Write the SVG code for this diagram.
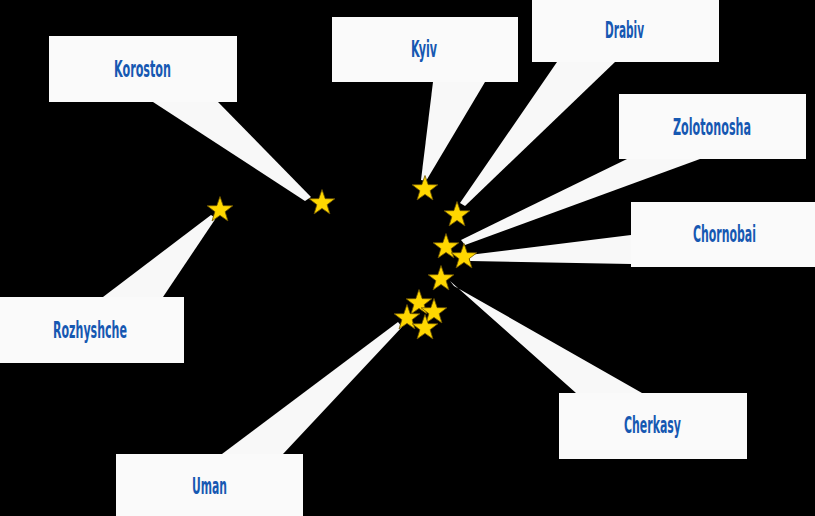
<svg xmlns="http://www.w3.org/2000/svg" xmlns:xlink="http://www.w3.org/1999/xlink" width="815" height="516" viewBox="0 0 815 516">
  <style>
    .box { fill: #fafafa; }
    .tail { fill: #f8f8f8; }
    .lbl { font-family: "DejaVu Sans Condensed", "Liberation Sans", sans-serif; font-weight: bold; font-size: 23.5px; fill: #1658b2; text-anchor: middle; }
    .star { fill: #ffd700; stroke: #6b5200; stroke-width: 0.8; stroke-linejoin: round; }
  </style>
  <defs>
    <path id="star" class="star" d="M0,-13.5 L3.18,-4.37 L12.84,-4.17 L5.14,1.67 L7.94,10.92 L0,5.4 L-7.94,10.92 L-5.14,1.67 L-12.84,-4.17 L-3.18,-4.37 Z"/>
  </defs>
  <rect x="0" y="0" width="815" height="516" fill="#000000"/>
  <g id="connectors">
    <polygon class="tail" points="153,102 218,102 311,197 305,201"/>
    <polygon class="tail" points="433,82 485,82 426,181 421,180"/>
    <polygon class="tail" points="557,62 615,62 465,206 460,203"/>
    <polygon class="tail" points="627,159 700,159 465,245 461,240"/>
    <polygon class="tail" points="631,235 631,264 470,261 469,255"/>
    <polygon class="tail" points="576,393 642,393 454,286 450,281"/>
    <polygon class="tail" points="103,297 163,297 216,218 211,215"/>
    <polygon class="tail" points="222,454 283,454 402,327 398,322"/>
  </g>
  <g id="koroston">
    <rect class="box" x="49" y="36" width="188" height="66"/>
    <text class="lbl" x="142.5" y="77" textLength="57" lengthAdjust="spacingAndGlyphs">Koroston</text>
    <use xlink:href="#star" x="322" y="203"/>
  </g>
  <g id="kyiv">
    <rect class="box" x="332" y="17" width="186" height="65"/>
    <text class="lbl" x="424" y="57" textLength="26" lengthAdjust="spacingAndGlyphs">Kyiv</text>
    <use xlink:href="#star" x="425" y="189"/>
  </g>
  <g id="drabiv">
    <rect class="box" x="532" y="-4" width="187" height="66"/>
    <text class="lbl" x="624.5" y="38" textLength="39" lengthAdjust="spacingAndGlyphs">Drabiv</text>
    <use xlink:href="#star" x="457" y="215"/>
  </g>
  <g id="zolotonosha">
    <rect class="box" x="619" y="94" width="187" height="65"/>
    <text class="lbl" x="712" y="135" textLength="78" lengthAdjust="spacingAndGlyphs">Zolotonosha</text>
    <use xlink:href="#star" x="446" y="247"/>
  </g>
  <g id="chornobai">
    <rect class="box" x="631" y="202" width="184" height="65"/>
    <text class="lbl" x="724.5" y="242" textLength="63" lengthAdjust="spacingAndGlyphs">Chornobai</text>
    <use xlink:href="#star" x="464" y="257"/>
  </g>
  <g id="cherkasy">
    <rect class="box" x="559" y="393" width="188" height="66"/>
    <text class="lbl" x="652.5" y="433" textLength="57" lengthAdjust="spacingAndGlyphs">Cherkasy</text>
    <use xlink:href="#star" x="441" y="279"/>
  </g>
  <g id="rozhyshche">
    <rect class="box" x="0" y="297" width="184" height="66"/>
    <text class="lbl" x="90" y="338" textLength="74" lengthAdjust="spacingAndGlyphs">Rozhyshche</text>
    <use xlink:href="#star" x="220" y="210"/>
  </g>
  <g id="uman">
    <rect class="box" x="116" y="454" width="187" height="66"/>
    <text class="lbl" x="209.5" y="494" textLength="35" lengthAdjust="spacingAndGlyphs">Uman</text>
    <use xlink:href="#star" x="419" y="303"/>
    <use xlink:href="#star" x="434" y="312"/>
    <use xlink:href="#star" x="407" y="318"/>
    <use xlink:href="#star" x="425" y="328"/>
  </g>
</svg>
